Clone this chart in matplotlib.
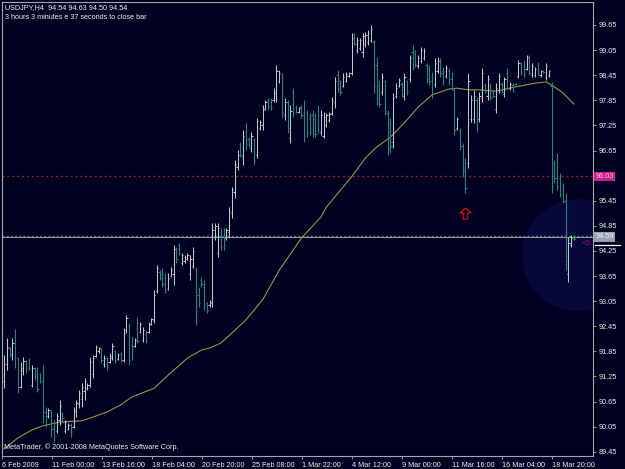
"""
USDJPY H4 bar chart, MetaTrader style (Feb - Mar 2009).
Writes out.png
"""

import matplotlib
matplotlib.use("Agg")
import matplotlib.pyplot as plt
import matplotlib.transforms as mtransforms
from matplotlib.patches import Ellipse
from matplotlib.path import Path
import numpy as np

# ── Data ──────────────────────────────────────────────────────────────────────

SYMBOL    = "USDJPY,H4"
LAST_OHLC = "94.54 94.63 94.50 94.54"
TIMER     = "3 hours 3 minutes e 37 seconds to close bar"
COPYRIGHT = "MetaTrader, \u00a9 2001-2008 MetaQuotes Software Corp."

opens = [
    91.15, 91.55, 91.92, 91.78, 92.05, 91.70, 91.00, 91.40, 91.62, 91.50,
    91.05, 91.45, 91.30, 91.30, 91.15, 90.40, 90.30, 90.40, 90.05, 89.95,
    90.20, 90.38, 89.95, 90.00, 90.10, 90.05, 90.40, 90.60, 90.70, 90.90,
    90.98, 91.05, 91.30, 91.75, 91.85, 91.90, 91.55, 91.68, 91.60, 91.70,
    91.85, 91.66, 91.78, 91.65, 92.35, 92.45, 92.00, 91.98, 92.40, 92.32,
    92.12, 92.30, 92.32, 92.50, 92.60, 93.30, 93.75, 93.70, 93.60, 93.35,
    93.65, 93.70, 94.30, 94.40, 93.95, 94.00, 94.05, 93.70, 93.90, 93.80,
    93.20, 93.55, 93.40, 93.00, 92.95, 93.00, 94.60, 94.20, 94.70, 94.60,
    94.55, 94.70, 95.15, 95.65, 96.25, 96.80, 96.50, 97.10, 96.92, 96.70,
    96.90, 96.55, 97.20, 97.25, 97.65, 97.85, 97.80, 97.85, 98.00, 98.30,
    98.45, 97.50, 97.80, 96.95, 98.05, 97.70, 97.58, 97.70, 97.55, 97.55,
    97.40, 97.50, 97.40, 97.60, 97.10, 97.00, 97.25, 97.38, 97.55, 97.80,
    98.45, 98.30, 98.20, 98.32, 98.43, 98.50, 99.40, 99.05, 99.10, 99.00,
    99.20, 99.25, 99.30, 99.25, 98.70, 98.20, 98.05, 98.30, 97.55, 97.30,
    96.85, 97.95, 98.20, 98.25, 97.95, 98.30, 98.35, 99.00, 98.95, 98.68,
    98.80, 98.85, 98.70, 98.60, 98.40, 98.25, 98.55, 98.80, 98.55, 98.42,
    98.55, 98.35, 98.10, 97.18, 97.15, 96.75, 96.20, 96.35, 97.40, 97.40,
    97.85, 97.40, 97.90, 98.22, 97.95, 98.20, 98.06, 97.65, 98.10, 98.25,
    98.00, 98.50, 98.14, 98.22, 98.24, 98.42, 98.72, 98.70, 98.60, 98.85,
    98.45, 98.45, 98.70, 98.45, 98.55, 98.40, 98.45, 98.20, 96.35, 96.45,
    96.00, 95.80, 95.45, 93.70, 94.40, 94.54,
]
highs = [
    91.76, 92.17, 91.95, 92.17, 92.39, 91.71, 91.59, 91.71, 91.64, 91.69,
    91.52, 91.47, 91.47, 91.33, 91.52, 90.52, 90.50, 90.45, 90.21, 90.38,
    90.69, 90.40, 90.21, 90.14, 90.14, 90.52, 90.69, 90.93, 91.09, 91.21,
    91.09, 91.71, 91.76, 92.00, 91.95, 91.93, 91.76, 91.71, 91.81, 92.05,
    91.88, 91.81, 91.83, 92.41, 92.72, 92.53, 92.19, 92.17, 92.67, 92.55,
    92.43, 92.36, 92.55, 92.65, 93.32, 93.91, 93.79, 93.84, 93.72, 93.72,
    93.86, 94.39, 94.34, 94.44, 94.20, 94.15, 94.20, 94.15, 94.34, 93.86,
    93.39, 93.63, 93.56, 93.03, 93.08, 94.92, 94.92, 94.92, 94.80, 94.80,
    94.80, 95.30, 95.78, 96.42, 96.66, 96.85, 97.14, 97.31, 96.97, 97.09,
    96.95, 97.43, 97.38, 97.74, 97.86, 97.91, 97.91, 98.14, 98.69, 98.57,
    98.50, 97.91, 97.86, 97.74, 98.14, 97.74, 97.69, 97.74, 97.86, 97.62,
    97.55, 97.62, 97.55, 97.74, 97.62, 97.57, 97.55, 97.57, 97.93, 98.41,
    98.57, 98.34, 98.50, 98.53, 98.53, 99.46, 99.46, 99.36, 99.34, 99.46,
    99.48, 99.53, 99.65, 99.29, 98.88, 98.34, 98.50, 98.34, 97.62, 97.43,
    98.02, 98.26, 98.38, 98.29, 98.50, 98.34, 98.93, 99.17, 99.05, 98.93,
    99.12, 99.10, 98.74, 98.69, 98.53, 98.86, 98.88, 98.86, 98.64, 98.69,
    98.62, 98.53, 98.14, 97.45, 97.19, 96.83, 96.47, 98.50, 97.98, 98.10,
    97.93, 98.05, 98.62, 98.26, 98.45, 98.26, 98.10, 98.26, 98.50, 98.29,
    98.41, 98.62, 98.29, 98.26, 98.26, 98.81, 98.76, 98.81, 98.93, 98.93,
    98.74, 98.64, 98.76, 98.57, 98.57, 98.74, 98.57, 98.29, 96.42, 96.59,
    96.11, 95.87, 95.63, 94.58, 94.63, 94.63,
]
lows = [
    90.98, 91.40, 91.71, 91.64, 91.45, 90.85, 90.98, 91.28, 91.33, 91.40,
    91.00, 91.17, 90.88, 91.09, 90.14, 90.04, 90.26, 89.80, 89.68, 89.90,
    90.09, 90.16, 89.90, 89.97, 89.80, 90.02, 90.28, 90.50, 90.52, 90.69,
    90.93, 91.00, 91.21, 91.71, 91.81, 91.57, 91.47, 91.40, 91.57, 91.64,
    91.57, 91.64, 91.59, 91.59, 92.29, 91.52, 91.64, 91.95, 92.05, 92.29,
    92.07, 92.05, 92.29, 92.48, 92.53, 93.24, 93.56, 93.39, 93.24, 93.32,
    93.62, 93.44, 93.96, 94.15, 93.91, 93.96, 94.03, 93.56, 93.84, 92.48,
    92.91, 93.39, 92.84, 92.77, 92.91, 92.91, 94.51, 94.10, 94.27, 94.27,
    94.51, 94.56, 95.04, 95.52, 96.18, 96.50, 96.30, 96.66, 96.73, 96.61,
    96.30, 96.47, 97.14, 97.14, 97.62, 97.62, 97.62, 97.81, 97.81, 98.26,
    97.43, 97.38, 97.07, 96.83, 97.45, 97.55, 97.55, 97.43, 96.85, 96.97,
    97.02, 96.97, 96.97, 97.07, 97.02, 96.95, 97.21, 97.33, 97.50, 97.67,
    98.05, 97.98, 98.17, 98.29, 98.41, 98.45, 99.17, 98.98, 99.05, 98.88,
    99.12, 99.17, 99.24, 98.02, 97.74, 97.69, 97.98, 97.50, 96.54, 96.59,
    96.71, 97.91, 98.17, 97.93, 97.86, 97.98, 98.29, 98.57, 98.64, 98.62,
    98.74, 98.81, 98.26, 98.22, 97.91, 98.17, 98.50, 98.41, 98.22, 98.38,
    98.22, 98.10, 97.02, 97.14, 96.66, 96.02, 95.63, 96.23, 97.33, 97.31,
    97.09, 97.33, 97.81, 98.02, 97.86, 97.86, 97.93, 97.55, 98.02, 98.02,
    97.93, 98.10, 98.10, 98.05, 98.17, 98.38, 98.45, 98.41, 98.57, 98.45,
    98.41, 98.41, 98.45, 98.41, 98.50, 98.34, 98.41, 95.63, 95.88, 95.71,
    95.54, 95.39, 93.79, 93.51, 94.34, 94.50,
]
closes = [
    91.55, 91.95, 91.78, 92.05, 91.70, 91.00, 91.45, 91.62, 91.42, 91.45,
    91.45, 91.25, 90.95, 91.12, 90.30, 90.10, 90.45, 90.00, 89.80, 90.30,
    90.55, 90.25, 90.15, 90.10, 89.90, 90.45, 90.62, 90.85, 91.00, 91.15,
    91.05, 91.60, 91.70, 91.95, 91.92, 91.65, 91.70, 91.48, 91.75, 91.98,
    91.62, 91.76, 91.62, 92.30, 92.65, 91.65, 91.75, 92.12, 92.10, 92.50,
    92.35, 92.10, 92.50, 92.62, 93.20, 93.85, 93.60, 93.45, 93.30, 93.60,
    93.80, 94.30, 94.05, 94.20, 94.15, 94.10, 94.15, 94.05, 94.25, 92.70,
    93.00, 93.45, 92.95, 92.85, 93.02, 94.75, 94.85, 94.80, 94.35, 94.40,
    94.75, 95.20, 95.70, 96.30, 96.55, 96.55, 97.00, 96.80, 96.78, 97.00,
    96.40, 97.35, 97.33, 97.65, 97.80, 97.70, 97.68, 98.05, 98.55, 98.50,
    97.55, 97.80, 97.20, 97.60, 97.55, 97.58, 97.66, 97.50, 97.00, 97.10,
    97.10, 97.05, 97.05, 97.15, 97.50, 97.45, 97.50, 97.52, 97.85, 98.30,
    98.12, 98.05, 98.40, 98.48, 98.50, 99.35, 99.20, 99.30, 99.28, 99.38,
    99.42, 99.45, 99.55, 98.20, 97.90, 97.75, 98.40, 97.60, 96.70, 96.75,
    97.90, 98.15, 98.33, 98.00, 98.40, 98.05, 98.85, 98.65, 98.70, 98.85,
    99.05, 99.02, 98.35, 98.30, 98.00, 98.75, 98.80, 98.50, 98.30, 98.62,
    98.30, 98.15, 97.15, 97.40, 96.75, 96.15, 95.75, 98.30, 97.85, 97.95,
    97.20, 97.95, 98.50, 98.06, 98.35, 97.92, 97.96, 98.15, 98.42, 98.06,
    98.35, 98.15, 98.25, 98.08, 98.19, 98.75, 98.50, 98.45, 98.88, 98.50,
    98.68, 98.60, 98.50, 98.55, 98.52, 98.68, 98.55, 95.80, 96.00, 95.80,
    95.60, 95.45, 94.00, 94.45, 94.55, 94.54,
]

# moving average, sampled along the drawn line (bar number, price)
ma_bar = [0, 5, 10, 14, 20, 28, 32, 37, 42, 46, 54, 59, 66, 71, 74, 78, 82, 87,
          93, 99, 107, 114, 116, 125, 130, 134, 139, 144, 149, 154, 160, 163,
          167, 171, 177, 184, 191, 195, 198, 201, 205]
ma_val = [89.52, 89.78, 89.97, 90.07, 90.16, 90.19, 90.28, 90.40, 90.57, 90.76,
          90.97, 91.28, 91.69, 91.88, 91.93, 92.05, 92.29, 92.60, 93.08, 93.79,
          94.56, 95.06, 95.30, 96.02, 96.47, 96.73, 96.97, 97.31, 97.69, 97.98,
          98.12, 98.14, 98.10, 98.10, 98.07, 98.17, 98.26, 98.29, 98.17, 98.03,
          97.76]

# the 96.05 step is hidden behind the alert-level label in the original
price_ticks = [89.45, 90.05, 90.65, 91.25, 91.85, 92.45, 93.05, 93.65, 94.25,
               94.85, 95.45, 96.65, 97.25, 97.85, 98.45, 99.05, 99.65]
date_labels = ["6 Feb 2009", "11 Feb 00:00", "13 Feb 16:00", "18 Feb 04:00",
               "20 Feb 20:00", "25 Feb 08:00", "1 Mar 22:00", "4 Mar 12:00",
               "9 Mar 00:00", "11 Mar 16:00", "16 Mar 04:00", "18 Mar 20:00"]

ALERT_LEVEL = 96.03       # red dotted line
BID_LEVEL   = 94.59       # current price line
ARROW_BAR   = 166
ARROW_PRICE = 95.16

# ── Style / layout ────────────────────────────────────────────────────────────

BG        = "#000020"
UP_COL    = "#c4c4c4"
DOWN_COL  = "#148c80"
LIVE_COL  = "#10d010"
MA_COL    = "#9c9448"
FRAME_COL = "#a8a8a8"
TXT_COL   = "#f0f0f0"
FONT      = "Liberation Sans"
FS        = 5.2

W, H = 625, 469
BAR0_PX, BAR_PX = 4.0, 2.78          # pixel x of first bar, pixels per bar
AX_L, AX_R, AX_T, AX_B = 2, 593, 2, 456
PRICE_TOP, PX_PER_PRICE = 100.2475, 1 / 0.0239   # price at pixel row 0


def px_to_bar(px):
    return (px - BAR0_PX) / BAR_PX


def py_to_price(py):
    return PRICE_TOP - py / PX_PER_PRICE


plt.rcParams["font.family"] = [FONT, "DejaVu Sans"]

fig = plt.figure(figsize=(W / 100, H / 100), dpi=100, facecolor=BG)
ax = fig.add_axes([AX_L / W, 1 - AX_B / H, (AX_R - AX_L) / W, (AX_B - AX_T) / H])
ax.set_facecolor(BG)
ax.set_xlim(px_to_bar(AX_L), px_to_bar(AX_R))
ax.set_ylim(py_to_price(AX_B), py_to_price(AX_T))

o = np.array(opens)
h = np.array(highs)
l = np.array(lows)
c = np.array(closes)
x = np.arange(len(o))

cols = [UP_COL if cc >= oo else DOWN_COL for oo, cc in zip(o, c)]
cols[-1] = LIVE_COL

# highlight circle round the latest bars
circ = Ellipse((px_to_bar(578), 94.15), 2 * 56 / BAR_PX, 2 * 56 / PX_PER_PRICE,
               facecolor="#07073a", edgecolor="none", zorder=0.5)
ax.add_patch(circ)

# horizontal levels
ax.axhline(ALERT_LEVEL, color="#8c1c34", lw=1.0, ls=(0, (1.5, 2.0)), zorder=1)
ax.axhline(BID_LEVEL + 0.012, color="#6a6a7a", lw=1.0, ls=(0, (1.5, 1.5)), zorder=1)
ax.axhline(BID_LEVEL - 0.012, color="#b4b4c0", lw=0.6, zorder=1)

# OHLC bars
ax.vlines(x, l, h, colors=cols, lw=0.75, zorder=3)
ax.hlines(o, x - 0.45, x, colors=cols, lw=0.75, zorder=3)
ax.hlines(c, x, x + 0.45, colors=cols, lw=0.75, zorder=3)

# moving average
ax.plot(ma_bar, ma_val, color=MA_COL, lw=0.8, zorder=2)

# red up-arrow marker under the swing low
arrow = Path([(0, 1), (1, 0.1), (0.4, 0.1), (0.4, -1), (-0.4, -1),
              (-0.4, 0.1), (-1, 0.1), (0, 1)])
ax.plot([ARROW_BAR], [ARROW_PRICE], marker=arrow, markersize=8,
        markerfacecolor="none", markeredgecolor="#e01010", markeredgewidth=0.8,
        zorder=4)

# truncated countdown text clipped at the price scale
ax.text(px_to_bar(582), py_to_price(244), "<3:", color="#8a1a8a",
        fontsize=FS + 0.5, va="center", ha="left", clip_on=True, zorder=4)

# axes frame and ticks
for side in ax.spines.values():
    side.set_color(FRAME_COL)
    side.set_linewidth(0.8)

ax.yaxis.tick_right()
ax.set_yticks(price_ticks)
ax.set_yticklabels([f"{v:.2f}" for v in price_ticks])
ax.tick_params(axis="y", colors=FRAME_COL, labelcolor=TXT_COL, labelsize=FS,
               length=2.5, width=0.6, pad=1.5)

tick_pos = [px_to_bar(AX_L)] + [px_to_bar(52 + 50 * k) for k in range(len(date_labels) - 1)]
ax.set_xticks(tick_pos)
ax.set_xticklabels(date_labels, ha="left")
ax.tick_params(axis="x", colors=FRAME_COL, labelcolor=TXT_COL, labelsize=FS,
               length=2.5, width=0.6, pad=1.5)

# price labels on the scale
blend = mtransforms.blended_transform_factory(ax.transAxes, ax.transData)
ax.text(1.004, ALERT_LEVEL, f"{ALERT_LEVEL:.2f}", transform=blend, fontsize=FS,
        color="#ffc0e8", va="center", ha="left", clip_on=False, zorder=6,
        bbox=dict(boxstyle="square,pad=0.18", fc="#c8208c", ec="none"))
ax.text(1.004, BID_LEVEL, f"{BID_LEVEL:.2f}", transform=blend, fontsize=FS,
        color="#f4f4f8", va="center", ha="left", clip_on=False, zorder=6,
        bbox=dict(boxstyle="square,pad=0.18", fc="#98a0b0", ec="none"))
ax.plot([1.004, 1.045], [py_to_price(244.5)] * 2, transform=blend, color="white",
        lw=0.9, clip_on=False, zorder=6)

# header and footer texts
fig.text(5 / W, 1 - 7.5 / H, f"{SYMBOL}  {LAST_OHLC}", color=TXT_COL,
         fontsize=FS, va="center", ha="left")
fig.text(5 / W, 1 - 17.5 / H, TIMER, color=TXT_COL, fontsize=FS,
         va="center", ha="left")
fig.text(4 / W, 1 - 447 / H, COPYRIGHT, color=TXT_COL, fontsize=FS,
         va="center", ha="left")

fig.savefig("out.png", dpi=100, facecolor=BG)
plt.close(fig)
